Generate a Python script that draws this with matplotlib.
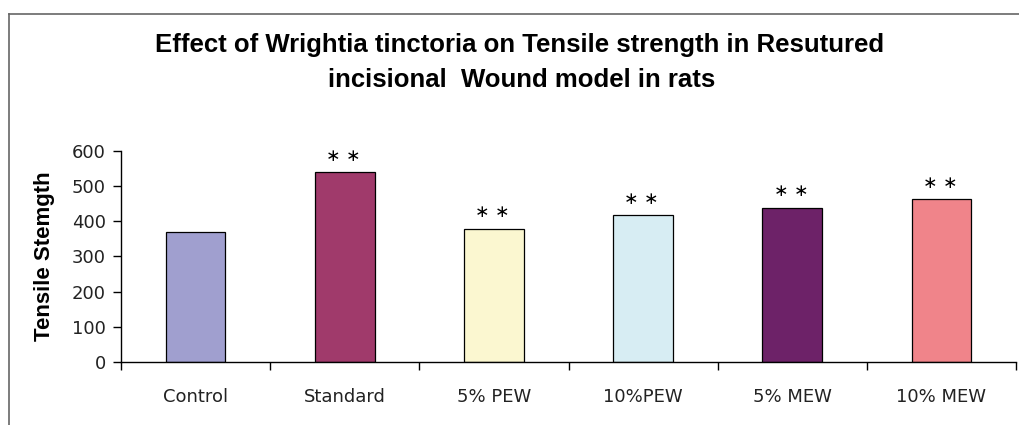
import matplotlib
matplotlib.use("Agg")
import matplotlib.pyplot as plt
from matplotlib.lines import Line2D
import numpy as np

# data
groups = ["Control", "Standard", "5% PEW", "10%PEW", "5% MEW", "10% MEW"]
strength = [368, 539, 379, 416, 437, 462]
stars = ["", "∗ ∗", "∗ ∗", "∗ ∗", "∗ ∗", "∗ ∗"]
colors = ["#A09FCF", "#A03A6B", "#FBF7D0", "#D7EDF3", "#6D2268", "#F0848A"]

fig = plt.figure(figsize=(10.19, 4.25), dpi=100)

# outer chart-area frame (only top and left edges are visible)
W, H = 1019, 425
fig.add_artist(Line2D([9 / W, 9 / W], [0, 1 - 13.5 / H], color="#666666", lw=1.2))
fig.add_artist(Line2D([9 / W, 1], [1 - 13.5 / H, 1 - 13.5 / H], color="#666666", lw=1.2))

ax = fig.add_axes([121 / W, 63 / H, 895 / W, 211.3 / H])
x = np.arange(len(groups))
bars = ax.bar(x, strength, width=0.4, color=colors, edgecolor="black", linewidth=0.9)

for xi, v, s in zip(x, strength, stars):
    if s:
        ax.annotate(s, (xi, v), xytext=(-1, 12), textcoords="offset points",
                    ha="center", va="center", fontsize=12.5, family="DejaVu Sans")

ax.set_xlim(-0.5, len(groups) - 0.5)
ax.set_ylim(0, 600)
ax.set_yticks(range(0, 601, 100))

# ticks sit between categories, labels sit under the bars
ax.set_xticks(np.arange(-0.5, len(groups), 1.0))
ax.set_xticklabels([])
ax.set_xticks(x, minor=True)
ax.set_xticklabels(groups, minor=True)
ax.tick_params(axis="x", which="major", direction="out", length=6, width=1)
ax.tick_params(axis="x", which="minor", length=0, pad=19, labelsize=13, labelcolor="#222222")
ax.tick_params(axis="y", direction="out", length=6, width=1, pad=5, labelsize=13, labelcolor="#222222")

for sp in ["top", "right"]:
    ax.spines[sp].set_visible(False)
for sp in ["left", "bottom"]:
    ax.spines[sp].set_linewidth(1)

ax.set_ylabel("Tensile Stemgth", fontsize=16, fontweight="bold", family="Liberation Sans")
ax.yaxis.set_label_coords(-66 / 895, 0.5)

fig.text(520 / W, 1 - 45 / H, "Effect of Wrightia tinctoria on Tensile strength in Resutured",
         ha="center", va="center", fontsize=18.5, fontweight="bold", family="Liberation Sans")
fig.text(522 / W, 1 - 80 / H, "incisional  Wound model in rats",
         ha="center", va="center", fontsize=18.5, fontweight="bold", family="Liberation Sans")

fig.savefig("out.png", dpi=100)
